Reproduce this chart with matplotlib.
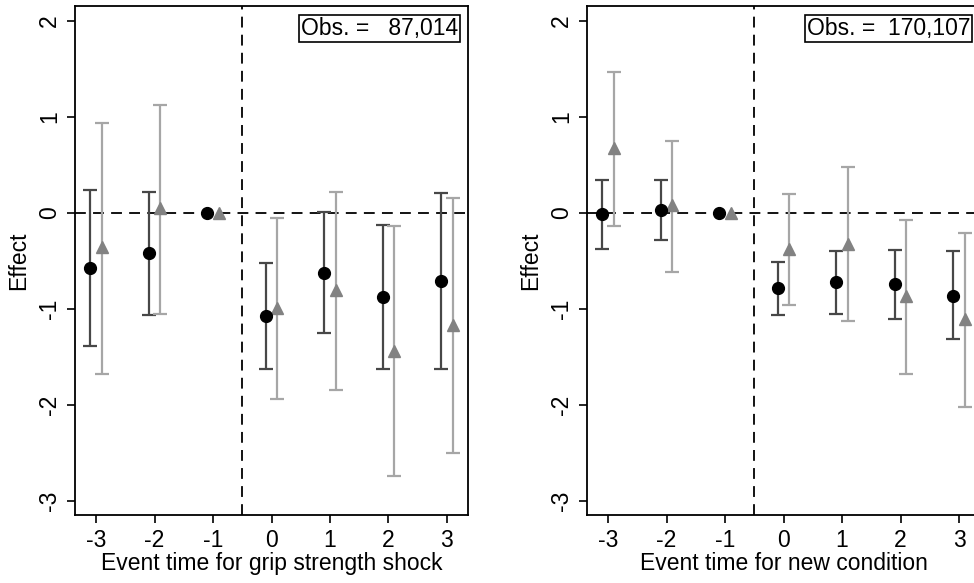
import numpy as np
from matplotlib import pyplot as plt

plt.rcParams['font.family'] = ['Liberation Sans', 'DejaVu Sans']
plt.rcParams['axes.unicode_minus'] = False

event_time = [-3, -2, -1, 0, 1, 2, 3]

# grip strength shock panel
grip_b = [-0.57, -0.42, 0.0, -1.07, -0.62, -0.87, -0.71]
grip_b_lo = [-1.39, -1.06, 0.0, -1.62, -1.25, -1.62, -1.62]
grip_b_hi = [0.24, 0.22, 0.0, -0.52, 0.01, -0.12, 0.21]
grip_g = [-0.35, 0.05, 0.0, -0.99, -0.80, -1.44, -1.17]
grip_g_lo = [-1.68, -1.05, 0.0, -1.94, -1.84, -2.74, -2.50]
grip_g_hi = [0.94, 1.13, 0.0, -0.05, 0.22, -0.14, 0.16]

# new condition panel
cond_b = [-0.01, 0.03, 0.0, -0.78, -0.72, -0.74, -0.86]
cond_b_lo = [-0.37, -0.28, 0.0, -1.06, -1.05, -1.10, -1.31]
cond_b_hi = [0.34, 0.34, 0.0, -0.51, -0.40, -0.38, -0.40]
cond_g = [0.68, 0.08, 0.0, -0.37, -0.32, -0.86, -1.10]
cond_g_lo = [-0.13, -0.61, 0.0, -0.96, -1.13, -1.68, -2.02]
cond_g_hi = [1.47, 0.75, 0.0, 0.20, 0.48, -0.07, -0.21]

xlabels = ["Event time for grip strength shock", "Event time for new condition"]
obs_text = ["Obs. =   87,014", "Obs. =  170,107"]


def draw_panel(ax, b, b_lo, b_hi, g, g_lo, g_hi, xlabel, obs):
    x = np.array(event_time, dtype=float)
    b, b_lo, b_hi = map(np.array, (b, b_lo, b_hi))
    g, g_lo, g_hi = map(np.array, (g, g_lo, g_hi))
    ci = x != -1
    ax.axhline(0, color="black", linestyle=(0, (6, 4)), linewidth=1.3, zorder=1)
    ax.axvline(-0.5, color="black", linestyle=(0, (6, 4)), linewidth=1.3, zorder=1)
    ax.errorbar(x[ci] - 0.1, b[ci], yerr=[b[ci] - b_lo[ci], b_hi[ci] - b[ci]],
                fmt="none", ecolor="#474747", elinewidth=1.6, capsize=5, capthick=1.6, zorder=2)
    ax.errorbar(x[ci] + 0.1, g[ci], yerr=[g[ci] - g_lo[ci], g_hi[ci] - g[ci]],
                fmt="none", ecolor="#a6a6a6", elinewidth=1.6, capsize=5, capthick=1.6, zorder=2)
    ax.plot(x - 0.1, b, "o", color="black", markersize=8.5, linestyle="none", zorder=4)
    ax.plot(x + 0.1, g, "^", color="#828282", markersize=9, linestyle="none", zorder=3)
    ax.set_xlim(-3.36, 3.36)
    ax.set_ylim(-3.146, 2.156)
    ax.set_xticks(event_time)
    ax.set_yticks([-3, -2, -1, 0, 1, 2])
    ax.set_yticklabels(["-3", "-2", "-1", "0", "1", "2"], rotation=90, va="center")
    ax.tick_params(labelsize=16.5, length=6, width=1.2, pad=4)
    ax.set_xlabel(xlabel, fontsize=16.5, labelpad=0)
    ax.set_ylabel("Effect", fontsize=16.5, labelpad=6)
    for s in ax.spines.values():
        s.set_linewidth(1.3)
    ax.text(0.975, 0.978, obs, transform=ax.transAxes, ha="right", va="top", fontsize=16.5,
            bbox=dict(boxstyle="square,pad=0.08", facecolor="white", edgecolor="black", linewidth=1.2))


fig = plt.figure(figsize=(9.74, 5.83), dpi=100)
ax1 = fig.add_axes([0.077, 0.1166, 0.4035, 0.873])
ax2 = fig.add_axes([0.6027, 0.1166, 0.4035, 0.873])

draw_panel(ax1, grip_b, grip_b_lo, grip_b_hi, grip_g, grip_g_lo, grip_g_hi, xlabels[0], obs_text[0])
draw_panel(ax2, cond_b, cond_b_lo, cond_b_hi, cond_g, cond_g_lo, cond_g_hi, xlabels[1], obs_text[1])

fig.savefig("out.png", dpi=100)
